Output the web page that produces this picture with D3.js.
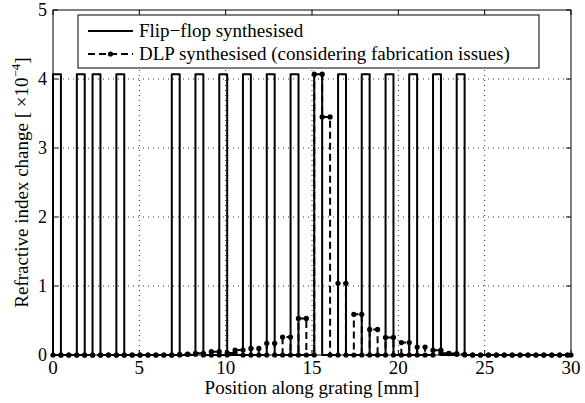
<!DOCTYPE html>
<meta charset="utf-8">
<script src="https://d3js.org/d3.v7.min.js"></script>
<style>
  body { margin: 0; background: #fff; }
  text { font-family: "Liberation Serif", "Times New Roman", serif; fill: #000; }
</style>
<div id="chart"></div>
<script>
    // flip-flop pulses: start position [mm] of each layer
    var flipStarts = [0, 1.38, 2.29, 3.67, 6.88, 8.25, 9.63, 11.0, 12.38, 13.76,
        15.13, 16.51, 17.88, 19.26, 20.63, 22.01, 23.38];
    var flipHeight = 4.07;
    var layerWidth = 0.4585;

    // DLP synthesised value of each layer (x 1e-4), layer k starts at k*layerWidth
    var dlpValues = [
        0, 0, 0, 0, 0, 0, 0, 0, 0, 0,
        0, 0, 0, 0, 0, 0, 0.01, 0.012, 0.024, 0,
        0.048, 0, 0.03, 0.072, 0, 0.096, 0, 0.17, 0, 0.26,
        0, 0.53, 0, 4.07, 3.45, 0, 1.04, 0, 0.59, 0,
        0.37, 0, 0.255, 0, 0.18, 0, 0.115, 0, 0.07, 0.025,
        0.02, 0.01, 0, 0, 0, 0, 0, 0, 0, 0,
        0, 0, 0, 0, 0, 0
    ];

    var xTicks = [0, 5, 10, 15, 20, 25, 30];
    var yTicks = [0, 1, 2, 3, 4, 5];
    var legendLabels = ["Flip\u2212flop synthesised", "DLP synthesised (considering fabrication issues)"];

    var W = 585, H = 403;
    var margin = { top: 10, right: 14, bottom: 48, left: 53 },
        width = W - margin.left - margin.right,
        height = H - margin.top - margin.bottom;

    var svg = d3.select("#chart").append("svg")
        .attr("width", W).attr("height", H);
    var g = svg.append("g")
        .attr("transform", "translate(" + margin.left + "," + margin.top + ")");

    var x = d3.scaleLinear().domain([0, 30]).range([0, width]);
    var y = d3.scaleLinear().domain([0, 5]).range([height, 0]);

    g.append("clipPath").attr("id", "clip")
        .append("rect").attr("x", -3).attr("y", -3).attr("width", width + 6).attr("height", height + 6);

    // dotted grid
    g.selectAll(".gx").data(xTicks.slice(1, -1)).enter().append("line")
        .attr("x1", d => x(d)).attr("x2", d => x(d)).attr("y1", 0).attr("y2", height)
        .attr("stroke", "#000").attr("stroke-width", 0.8).attr("stroke-dasharray", "1,4");
    g.selectAll(".gy").data(yTicks.slice(1, -1)).enter().append("line")
        .attr("y1", d => y(d)).attr("y2", d => y(d)).attr("x1", 0).attr("x2", width)
        .attr("stroke", "#000").attr("stroke-width", 0.8).attr("stroke-dasharray", "1,4");

    // flip-flop profile as a step line
    var flipPts = [[0, 0]];
    flipStarts.forEach(function (s) {
        flipPts.push([s, 0], [s, flipHeight], [s + layerWidth, flipHeight], [s + layerWidth, 0]);
    });
    flipPts.push([30, 0]);

    var line = d3.line().x(d => x(d[0])).y(d => y(d[1]));

    var plot = g.append("g").attr("clip-path", "url(#clip)");

    plot.append("path").datum(flipPts)
        .attr("d", line)
        .attr("fill", "none").attr("stroke", "#000").attr("stroke-width", 2)
        .attr("stroke-linejoin", "round");

    // DLP profile: stairs, with a marker at every vertex
    var dlpPts = [];
    dlpValues.forEach(function (v, k) {
        var x0 = Math.min(k * layerWidth, 30), x1 = Math.min((k + 1) * layerWidth, 30);
        dlpPts.push([x0, v], [x1, v]);
    });

    plot.append("path").datum(dlpPts)
        .attr("d", line)
        .attr("fill", "none").attr("stroke", "#000").attr("stroke-width", 2)
        .attr("stroke-dasharray", "7,4");

    plot.selectAll(".dot").data(dlpPts).enter().append("circle")
        .attr("cx", d => x(d[0])).attr("cy", d => y(d[1])).attr("r", 2.6)
        .attr("fill", "#000");

    // box and ticks (inside, all four sides)
    g.append("rect").attr("width", width).attr("height", height)
        .attr("fill", "none").attr("stroke", "#000").attr("stroke-width", 1);

    var tl = 5;
    xTicks.forEach(function (t) {
        g.append("line").attr("x1", x(t)).attr("x2", x(t)).attr("y1", height).attr("y2", height - tl).attr("stroke", "#000");
        g.append("line").attr("x1", x(t)).attr("x2", x(t)).attr("y1", 0).attr("y2", tl).attr("stroke", "#000");
    });
    yTicks.forEach(function (t) {
        g.append("line").attr("y1", y(t)).attr("y2", y(t)).attr("x1", 0).attr("x2", tl).attr("stroke", "#000");
        g.append("line").attr("y1", y(t)).attr("y2", y(t)).attr("x1", width).attr("x2", width - tl).attr("stroke", "#000");
    });

    g.selectAll(".xl").data(xTicks).enter().append("text")
        .attr("x", d => x(d)).attr("y", height + 19)
        .attr("text-anchor", "middle").style("font-size", "19px")
        .text(d => d);
    g.selectAll(".yl").data(yTicks).enter().append("text")
        .attr("x", -6).attr("y", d => y(d) + 6)
        .attr("text-anchor", "end").style("font-size", "18px")
        .text(d => d);

    // axis labels
    g.append("text")
        .attr("x", width / 2).attr("y", height + 39)
        .attr("text-anchor", "middle").style("font-size", "19px")
        .text("Position along grating [mm]");

    var yl = svg.append("text")
        .attr("transform", "translate(28," + (margin.top + height / 2) + ")rotate(-90)")
        .attr("text-anchor", "middle").style("font-size", "19px");
    yl.append("tspan").text("Refractive index change [  \u00d710");
    yl.append("tspan").attr("dy", -8).style("font-size", "13px").text("\u22124");
    yl.append("tspan").attr("dy", 8).text("]");

    // legend
    var lg = svg.append("g");
    lg.append("rect").attr("x", 78).attr("y", 15).attr("width", 461).attr("height", 53)
        .attr("fill", "#fff").attr("stroke", "#000").attr("stroke-width", 1);
    lg.append("line").attr("x1", 88).attr("x2", 133).attr("y1", 31).attr("y2", 31)
        .attr("stroke", "#000").attr("stroke-width", 2);
    lg.append("line").attr("x1", 88).attr("x2", 133).attr("y1", 54).attr("y2", 54)
        .attr("stroke", "#000").attr("stroke-width", 2).attr("stroke-dasharray", "7,4");
    lg.append("circle").attr("cx", 110.5).attr("cy", 54).attr("r", 2.6).attr("fill", "#000");
    lg.selectAll(".lt").data(legendLabels).enter().append("text")
        .attr("x", 139).attr("y", (d, i) => 37 + i * 23)
        .style("font-size", "19px")
        .text(d => d);
</script>
